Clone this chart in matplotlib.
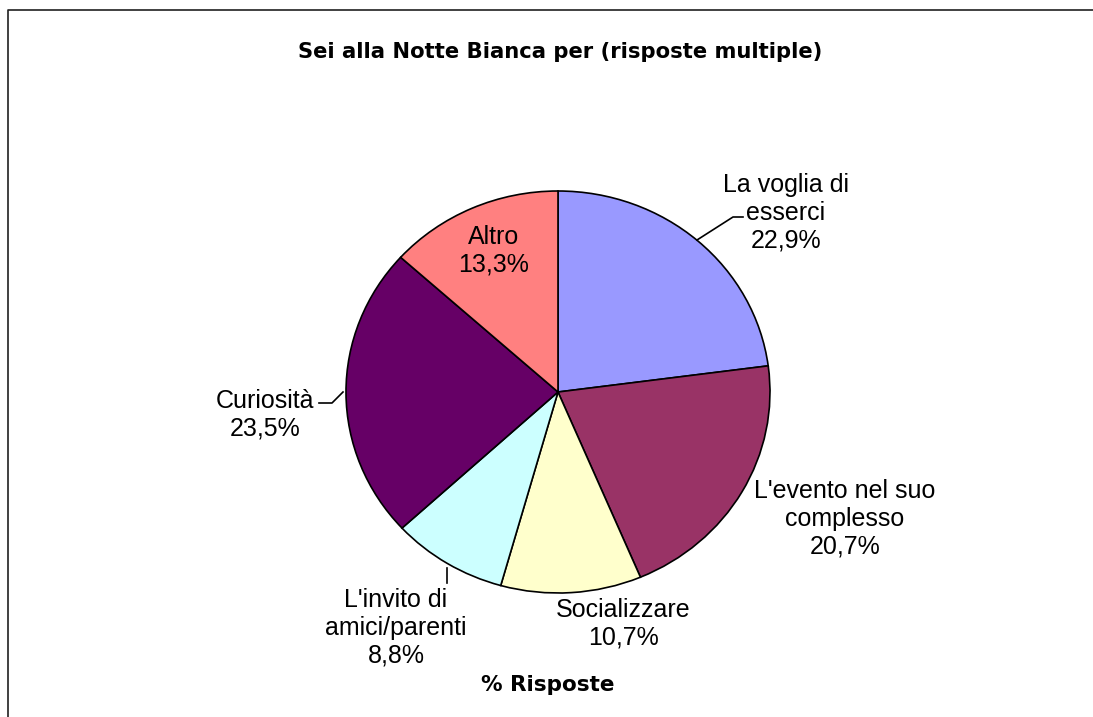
import matplotlib
matplotlib.use('Agg')
import matplotlib.pyplot as plt

# survey answers, % of responses
labels = ["La voglia di\nesserci", "L'evento nel suo\ncomplesso", "Socializzare",
          "L'invito di\namici/parenti", "Curiosità", "Altro"]
values = [22.9, 20.7, 10.7, 8.8, 23.5, 13.3]
colors = ['#9999FF', '#993366', '#FFFFCC', '#CCFFFF', '#660066', '#FF8080']

title = 'Sei alla Notte Bianca per (risposte multiple)'
xlabel = '% Risposte'

W, H = 1093, 717
plt.rcParams['font.family'] = ['Liberation Sans', 'DejaVu Sans']

fig = plt.figure(figsize=(W / 100, H / 100), dpi=100)


def px(x, y):
    return x / W, 1 - y / H


# pie axes: unit radius is ~212 px wide and ~201 px tall (the original is slightly stretched)
cx, cy, rx, ry = 558, 392, 212, 201
ax = fig.add_axes([0, 0, 1, 1])
ax.pie(values, colors=colors, startangle=90, counterclock=False,
       wedgeprops=dict(edgecolor='black', linewidth=1.2))
ax.set_aspect('auto')
ax.set_xlim(-cx / rx, (W - cx) / rx)
ax.set_ylim(-(H - cy) / ry, cy / ry)
ax.axis('off')

# overlay in pixel coordinates for frame and leader lines
ov = fig.add_axes([0, 0, 1, 1], facecolor='none')
ov.set_xlim(0, W)
ov.set_ylim(H, 0)
ov.axis('off')
ov.plot([7.5, 7.5, W], [H, 10, 10], color='#202020', lw=1.2)
ov.plot([697, 733, 743], [240, 217, 217], color='black', lw=1.2)
ov.plot([319, 332, 343], [403, 403, 392], color='black', lw=1.2)
ov.plot([447, 447], [568, 583], color='black', lw=1.2)

# data labels
label_pos = [(786, 213), (845, 519), (623, 624), (396, 628), (265, 415), (494, 251)]
for lab, val, (x, y) in zip(labels, values, label_pos):
    txt = lab + '\n' + ('%.1f%%' % val).replace('.', ',')
    fig.text(*px(x, y), txt, ha='center', va='center', fontsize=18,
             linespacing=1.2, color='black')

fig.text(*px(560, 52), title, ha='center', va='center', fontsize=15.2,
         fontweight='bold', family='DejaVu Sans')
fig.text(*px(548, 685), xlabel, ha='center', va='center', fontsize=15.5,
         fontweight='bold', family='DejaVu Sans')

fig.savefig('out.png', dpi=100, facecolor='white')
